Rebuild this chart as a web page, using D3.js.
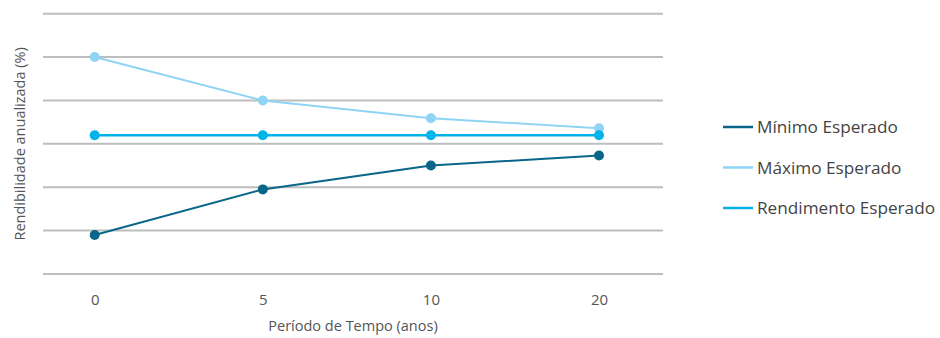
<!DOCTYPE html>
<html>
<head>
<meta charset="utf-8">
<script src="https://cdn.jsdelivr.net/npm/d3@7"></script>
<style>
  html, body { margin: 0; padding: 0; background: #fff; }
  svg { display: block; font-family: "Open Sans", "Noto Sans", sans-serif; }
</style>
</head>
<body>
<svg id="chart" width="940" height="338"></svg>
<script>
// Periods (years) and annualised return series
const periods = ["0", "5", "10", "20"];
const minimo = [0.9, 1.95, 2.5, 2.73];
const maximo = [5.0, 4.0, 3.59, 3.36];
const rendimento = [3.2, 3.2, 3.2, 3.2];
const yTicks = [0, 1, 2, 3, 4, 5, 6];

const seriesNames = ["Mínimo Esperado", "Máximo Esperado", "Rendimento Esperado"];
const seriesValues = [minimo, maximo, rendimento];
const seriesColors = ["#0a6688", "#8fd4f4", "#00b3ea"];
const seriesWidths = [2, 2, 2.5];

const svg = d3.select("#chart");
const plot = { left: 43, right: 663, top: 13.7, bottom: 274 };

const x = d3.scalePoint().domain(periods).range([94.7, 599]);
const y = d3.scaleLinear().domain([0, 6]).range([plot.bottom, plot.top]);

// Horizontal gridlines
svg.append("g")
  .selectAll("line")
  .data(yTicks)
  .join("line")
  .attr("x1", plot.left).attr("x2", plot.right)
  .attr("y1", d => y(d)).attr("y2", d => y(d))
  .attr("stroke", "#bdbec0")
  .attr("stroke-width", 2);

// X axis labels
const xAxis = svg.append("g")
  .attr("transform", `translate(0,${plot.bottom})`)
  .call(d3.axisBottom(x).tickSize(0).tickPadding(20));
xAxis.select(".domain").remove();
xAxis.selectAll("text")
  .attr("font-size", 15)
  .attr("font-family", "'Open Sans', sans-serif")
  .attr("fill", "#555");

// Axis titles
svg.append("text")
  .attr("x", (plot.left + plot.right) / 2)
  .attr("y", 331)
  .attr("text-anchor", "middle")
  .attr("font-size", 14.5)
  .attr("fill", "#555")
  .text("Período de Tempo (anos)");

svg.append("text")
  .attr("transform", `translate(25,${(plot.top + plot.bottom) / 2}) rotate(-90)`)
  .attr("text-anchor", "middle")
  .attr("font-size", 14.5)
  .attr("fill", "#555")
  .text("Rendibilidade anualizada (%)");

// Lines and markers
const line = d3.line()
  .x((d, i) => x(periods[i]))
  .y(d => y(d));

// draw order: máximo, rendimento, mínimo
[1, 2, 0].forEach(k => {
  const g = svg.append("g");
  g.append("path")
    .datum(seriesValues[k])
    .attr("d", line)
    .attr("fill", "none")
    .attr("stroke", seriesColors[k])
    .attr("stroke-width", seriesWidths[k]);
  g.selectAll("circle")
    .data(seriesValues[k])
    .join("circle")
    .attr("cx", (d, i) => x(periods[i]))
    .attr("cy", d => y(d))
    .attr("r", 5)
    .attr("fill", seriesColors[k]);
});

// Legend
const legendY = d3.scalePoint().domain(seriesNames).range([127, 208]);
const legend = svg.append("g")
  .selectAll("g")
  .data(seriesNames)
  .join("g")
  .attr("transform", d => `translate(723,${legendY(d)})`);
legend.append("line")
  .attr("x1", 0).attr("x2", 30)
  .attr("stroke", (d, i) => seriesColors[i])
  .attr("stroke-width", 2.5);
legend.append("text")
  .attr("x", 34)
  .attr("dy", "0.35em")
  .attr("font-size", 17.2)
  .attr("fill", "#444")
  .text(d => d);
</script>
</body>
</html>
